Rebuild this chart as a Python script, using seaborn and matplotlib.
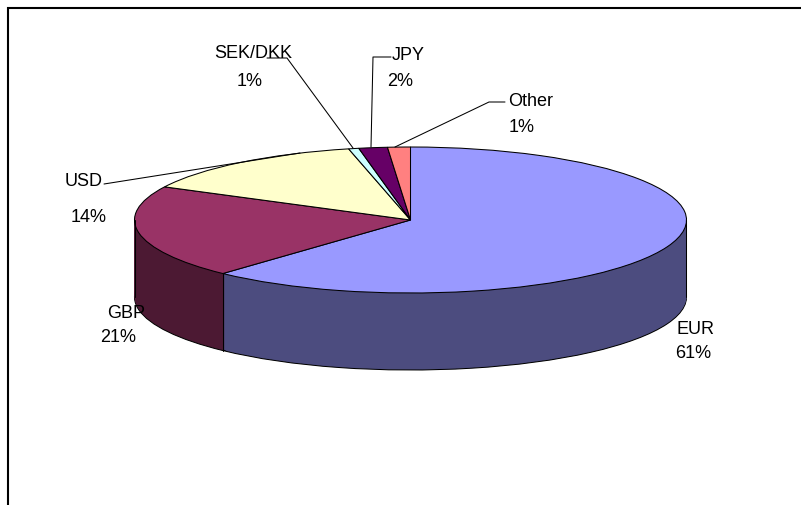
import numpy as np
import matplotlib
matplotlib.use('Agg')
import matplotlib.pyplot as plt
import seaborn as sns

# Currency split
currencies = ['EUR', 'GBP', 'USD', 'SEK/DKK', 'JPY', 'Other']
shares = [61.9, 20.6, 13.9, 0.6, 1.67, 1.33]
pct_labels = ['61%', '21%', '14%', '1%', '2%', '1%']
top_colors = ['#9999FF', '#993366', '#FFFFCC', '#CCFFFF', '#660066', '#FF8080']
side_colors = ['#4C4C7F', '#4C1933', '#7F7F66', '#667F7F', '#330033', '#7F4040']

# Pie geometry in image pixels
CX, CY = 410.5, 220
RX, RY = 276, 73
DEPTH = 77
LW = 0.75


def to_x(px):
    return (px - CX) / RX


def to_y(py):
    return (CY - py) / RY


sns.set_theme(style='white')
plt.rcParams['font.family'] = ['Liberation Sans', 'DejaVu Sans']

fig = plt.figure(figsize=(8.01, 5.05), dpi=100)
ax = fig.add_axes([0, 0, 1, 1])

pie_args = dict(startangle=90, counterclock=False, radius=1)

# Side wall: bottom slice outlined, then stacked layers up to the top face
depth = DEPTH / RY
ax.pie(shares, colors=sns.color_palette(side_colors), center=(0, -depth),
       wedgeprops=dict(edgecolor='black', linewidth=LW), **pie_args)
for d in range(DEPTH - 1, 0, -1):
    ax.pie(shares, colors=sns.color_palette(side_colors), center=(0, -d / RY),
           wedgeprops=dict(edgecolor='none'), **pie_args)
ax.pie(shares, colors=sns.color_palette(top_colors), center=(0, 0),
       wedgeprops=dict(edgecolor='black', linewidth=LW), **pie_args)

# Vertical edges of the wall: both extremes and the EUR/GBP boundary
boundary = np.radians(90 - 360 * shares[0] / sum(shares))
for x in [-1, 1, np.cos(boundary)]:
    y = 0 if abs(x) == 1 else np.sin(boundary)
    ax.plot([x, x], [y, y - depth], color='black', lw=LW, zorder=5)

# pie() forces an equal aspect, the flattened look needs it free
ax.set_aspect('auto')
ax.set_xlim(to_x(0), to_x(801))
ax.set_ylim(to_y(505), to_y(0))

# Leader lines
leaders = [
    ([104, 300], [184, 153]),
    ([267, 287, 353], [58, 58, 148]),
    ([391, 373, 371], [57, 57, 147]),
    ([505, 489, 395], [102, 102, 147]),
]
for xs, ys in leaders:
    ax.plot(to_x(np.array(xs)), to_y(np.array(ys)), color='black', lw=LW, zorder=6)

# Labels: name position, then percent position
name_pos = [(695.5, 329), (126.5, 313), (84, 182), (253, 54), (408.5, 56), (530.5, 101)]
pct_pos = [(693, 353), (118.5, 338), (88.5, 218), (250, 81), (400.5, 81), (522, 127)]
for name, pct, p1, p2 in zip(currencies, pct_labels, name_pos, pct_pos):
    ax.text(to_x(p1[0]), to_y(p1[1]), name, fontsize=13, color='black',
            ha='center', va='center', zorder=7)
    ax.text(to_x(p2[0]), to_y(p2[1]), pct, fontsize=13, color='black',
            ha='center', va='center', zorder=7)

# Chart frame is cut off right and bottom in the source
ax.plot(to_x(np.array([7.5, 7.5, 801])), to_y(np.array([505, 7.5, 7.5])),
        color='black', lw=1.5, zorder=8, solid_joinstyle='miter')

ax.axis('off')
fig.savefig('out.png', dpi=100)
